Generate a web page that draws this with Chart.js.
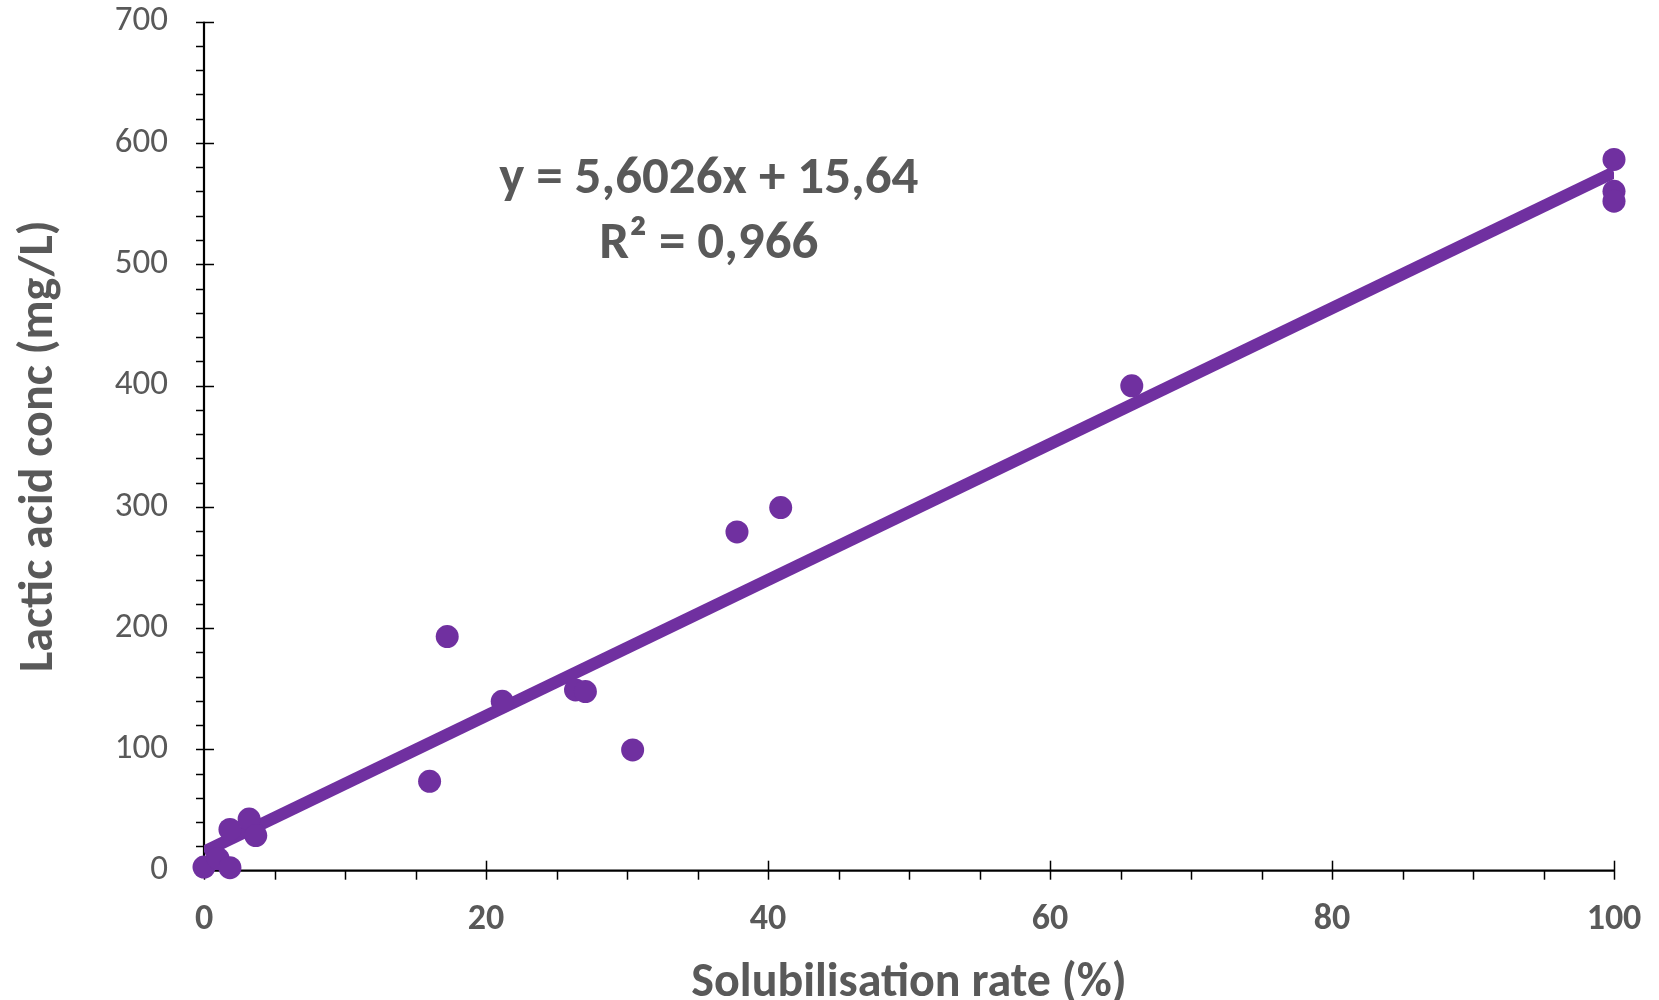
<!DOCTYPE html>
<html><head><meta charset="utf-8">
<script src="https://cdn.jsdelivr.net/npm/chart.js@4"></script>
<style>html,body{margin:0;padding:0;background:#fff}#wrap{width:1659px;height:1000px;position:relative}</style>
</head><body><div id="wrap"><canvas id="c"></canvas></div>
<script>
const solubilisation = [0, 1, 1.84, 1.84, 3.2, 3.67, 16.0, 17.25, 21.15, 26.35, 27.05, 30.4, 37.8, 40.9, 65.8, 100, 100, 100];
const lacticAcid = [3, 10, 2.5, 34, 42.6, 29, 73.7, 193, 139.7, 149, 147.7, 99.6, 279.3, 299.4, 399.8, 586.4, 560.2, 552];
const xTickValues = [0, 20, 40, 60, 80, 100];
const yTickValues = [0, 100, 200, 300, 400, 500, 600, 700];
const trendSlope = 5.6026;
const trendIntercept = 15.64;
const equationLines = ['y = 5,6026x + 15,64', 'R\u00b2 = 0,966'];
const xTitle = 'Solubilisation rate (%)';
const yTitle = 'Lactic acid conc (mg/L)';

const PURPLE = '#7030A0';
const GREY = '#595959';
const FONT = "Carlito, 'Open Sans', sans-serif";

const points = solubilisation.map((x, i) => ({x, y: lacticAcid[i]}));
const trend = [0, 100].map(x => ({x, y: trendSlope * x + trendIntercept}));

const axesPlugin = {
  id: 'excelAxes',
  beforeDatasetsDraw(chart) {
    const {ctx, scales: {x, y}, chartArea: a} = chart;
    ctx.save();
    ctx.strokeStyle = '#000';
    ctx.lineWidth = 1.5;
    for (let v = 0; v <= 700; v += 20) {
      const py = Math.round(y.getPixelForValue(v)) + 0.5;
      const major = v % 100 === 0;
      ctx.beginPath();
      ctx.moveTo(a.left - 8, py);
      ctx.lineTo(a.left + (major ? 10 : 0), py);
      ctx.stroke();
    }
    for (let v = 0; v <= 100; v += 5) {
      const px = Math.round(x.getPixelForValue(v)) + 0.5;
      const major = v % 20 === 0;
      ctx.beginPath();
      ctx.moveTo(px, a.bottom + 9);
      ctx.lineTo(px, a.bottom - (major ? 10 : 0));
      ctx.stroke();
    }
    ctx.lineWidth = 2.2;
    ctx.beginPath();
    ctx.moveTo(a.left, a.top);
    ctx.lineTo(a.left, a.bottom);
    ctx.lineTo(a.right, a.bottom);
    ctx.stroke();
    ctx.restore();
  },
  afterDraw(chart) {
    const {ctx, scales: {x, y}} = chart;
    ctx.save();
    ctx.fillStyle = GREY;
    ctx.textAlign = 'center';
    ctx.textBaseline = 'alphabetic';
    ctx.font = `bold 53px ${FONT}`;
    const cx = x.getPixelForValue(35.8);
    ctx.fillText(equationLines[0], cx, y.getPixelForValue(559));
    ctx.fillText(equationLines[1], cx, y.getPixelForValue(505.5));
    ctx.restore();
  }
};

new Chart(document.getElementById('c'), {
  type: 'scatter',
  data: {
    datasets: [
      { type: 'line', data: trend, borderColor: PURPLE, borderWidth: 12, pointRadius: 0, fill: false, clip: 0, order: 2, borderCapStyle: 'butt' },
      { data: points, backgroundColor: PURPLE, borderColor: PURPLE, pointRadius: 11.5, pointHoverRadius: 11.5, borderWidth: 0, clip: false, order: 1 }
    ]
  },
  options: {
    responsive: true,
    maintainAspectRatio: false,
    animation: false,
    events: [],
    layout: { padding: { top: 21.7, right: 45, left: 0, bottom: 0 } },
    plugins: { legend: { display: false }, tooltip: { enabled: false } },
    scales: {
      x: {
        type: 'linear', min: 0, max: 100,
        afterBuildTicks(s) { s.ticks = xTickValues.map(v => ({value: v})); },
        afterFit(s) { s.height = 129.3; s.paddingLeft = 0; s.paddingRight = 0; },
        grid: { display: false, drawTicks: false },
        border: { display: false },
        ticks: { color: GREY, font: { family: FONT, size: 36, weight: 'bold' }, padding: 28, maxRotation: 0, autoSkip: false },
        title: { display: true, text: xTitle, color: GREY, font: { family: FONT, size: 48, weight: 'bold', lineHeight: 0.65 }, padding: { top: 0, bottom: 0 } }
      },
      y: {
        type: 'linear', min: 0, max: 700,
        afterBuildTicks(s) { s.ticks = yTickValues.map(v => ({value: v})); },
        afterFit(s) { s.width = 204; s.paddingTop = 0; s.paddingBottom = 0; },
        grid: { display: false, drawTicks: false },
        border: { display: false },
        ticks: { color: GREY, font: { family: FONT, size: 35 }, padding: 36, autoSkip: false },
        title: { display: true, text: yTitle, color: GREY, font: { family: FONT, size: 48, weight: 'bold', lineHeight: 1.2 }, padding: { top: 11, bottom: 0 } }
      }
    }
  },
  plugins: [axesPlugin]
});
</script></body></html>
